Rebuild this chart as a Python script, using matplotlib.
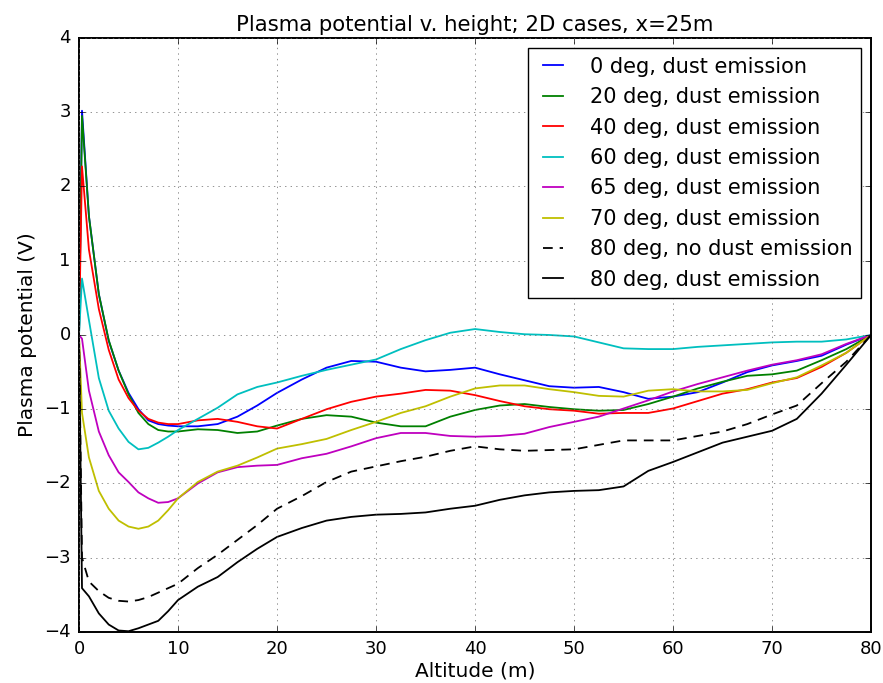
import matplotlib
matplotlib.use("Agg")
import matplotlib.pyplot as plt

plt.style.use('classic')
plt.rcParams['font.family'] = ['DejaVu Sans']

# altitude grid (m)
altitude = [0, 0.3, 1, 2, 3, 4, 5, 6, 7, 8, 9, 10, 12, 14, 16, 18, 20, 22.5, 25, 27.5,
            30, 32.5, 35, 37.5, 40, 42.5, 45, 47.5, 50, 52.5, 55, 57.5, 60, 62.5, 65,
            67.5, 70, 72.5, 75, 77.5, 80]

deg0 = [0, 3.02, 1.6, 0.55, -0.08, -0.48, -0.78, -1.0, -1.15, -1.2, -1.22, -1.23, -1.23,
        -1.2, -1.1, -0.95, -0.78, -0.6, -0.44, -0.35, -0.36, -0.44, -0.49, -0.47, -0.44,
        -0.53, -0.61, -0.69, -0.71, -0.70, -0.77, -0.86, -0.83, -0.77, -0.64, -0.50,
        -0.41, -0.35, -0.28, -0.13, 0]
deg20 = [0, 2.95, 1.6, 0.55, -0.07, -0.48, -0.8, -1.05, -1.2, -1.28, -1.3, -1.3, -1.27,
         -1.28, -1.32, -1.3, -1.22, -1.13, -1.08, -1.10, -1.18, -1.23, -1.23, -1.10,
         -1.01, -0.95, -0.93, -0.97, -1.0, -1.02, -1.01, -0.93, -0.83, -0.72, -0.63,
         -0.55, -0.53, -0.48, -0.34, -0.19, 0]
deg40 = [0, 2.27, 1.15, 0.35, -0.2, -0.6, -0.85, -1.02, -1.13, -1.18, -1.2, -1.2, -1.15,
         -1.13, -1.17, -1.23, -1.26, -1.13, -1.0, -0.90, -0.83, -0.79, -0.74, -0.75,
         -0.81, -0.89, -0.96, -1.0, -1.02, -1.06, -1.05, -1.05, -0.99, -0.89, -0.79,
         -0.73, -0.64, -0.58, -0.43, -0.24, 0]
deg60 = [0, 0.76, 0.2, -0.58, -1.02, -1.26, -1.44, -1.54, -1.52, -1.45, -1.37, -1.28,
         -1.13, -0.98, -0.8, -0.7, -0.64, -0.55, -0.47, -0.40, -0.33, -0.19, -0.07, 0.03,
         0.08, 0.04, 0.01, 0.0, -0.02, -0.1, -0.18, -0.19, -0.19, -0.16, -0.14, -0.12,
         -0.10, -0.09, -0.09, -0.06, 0]
deg65 = [0, -0.05, -0.75, -1.3, -1.62, -1.85, -1.98, -2.12, -2.2, -2.26, -2.25, -2.2,
         -2.0, -1.85, -1.78, -1.76, -1.75, -1.66, -1.6, -1.5, -1.39, -1.32, -1.32, -1.36,
         -1.37, -1.36, -1.33, -1.24, -1.17, -1.10, -0.99, -0.88, -0.76, -0.66, -0.57,
         -0.48, -0.40, -0.34, -0.26, -0.12, 0]
deg70 = [0, -1.05, -1.65, -2.1, -2.34, -2.5, -2.58, -2.61, -2.58, -2.5, -2.36, -2.2,
         -1.98, -1.84, -1.76, -1.65, -1.53, -1.47, -1.4, -1.28, -1.17, -1.05, -0.96,
         -0.83, -0.72, -0.68, -0.68, -0.73, -0.77, -0.82, -0.83, -0.75, -0.73, -0.76,
         -0.76, -0.74, -0.65, -0.57, -0.41, -0.24, 0]
deg80_nodust = [0, -3.0, -3.32, -3.45, -3.54, -3.58, -3.59, -3.57, -3.53, -3.47, -3.41,
                -3.35, -3.14, -2.96, -2.76, -2.56, -2.34, -2.17, -1.98, -1.84, -1.77,
                -1.70, -1.64, -1.56, -1.50, -1.54, -1.56, -1.55, -1.54, -1.48, -1.42,
                -1.42, -1.42, -1.36, -1.30, -1.20, -1.07, -0.95, -0.65, -0.36, 0]
deg80 = [0, -3.41, -3.52, -3.75, -3.9, -3.98, -3.99, -3.95, -3.9, -3.85, -3.72, -3.57,
         -3.39, -3.26, -3.06, -2.88, -2.72, -2.6, -2.5, -2.45, -2.42, -2.41, -2.39, -2.34,
         -2.30, -2.22, -2.16, -2.12, -2.10, -2.09, -2.04, -1.83, -1.71, -1.58, -1.45,
         -1.37, -1.29, -1.13, -0.79, -0.40, 0]

fig = plt.figure(figsize=(8.83, 6.83), dpi=100, facecolor='white')
ax = fig.add_axes([0.0895, 0.0747, 0.897, 0.8697])

lw = 1.3
ax.plot(altitude, deg0, 'b-', lw=lw, label='0 deg, dust emission')
ax.plot(altitude, deg20, 'g-', lw=lw, label='20 deg, dust emission')
ax.plot(altitude, deg40, 'r-', lw=lw, label='40 deg, dust emission')
ax.plot(altitude, deg60, 'c-', lw=lw, label='60 deg, dust emission')
ax.plot(altitude, deg65, 'm-', lw=lw, label='65 deg, dust emission')
ax.plot(altitude, deg70, 'y-', lw=lw, label='70 deg, dust emission')
ax.plot(altitude, deg80_nodust, 'k--', lw=lw, dashes=(7, 5),
        label='80 deg, no dust emission')
ax.plot(altitude, deg80, 'k-', lw=lw, label='80 deg, dust emission')

ax.set_xlim(0, 80)
ax.set_ylim(-4, 4)
ax.tick_params(labelsize=13, pad=6)
for s in ax.spines.values():
    s.set_linewidth(1.4)
ax.set_xlabel('Altitude (m)', fontsize=14.5, labelpad=2)
ax.set_ylabel('Plasma potential (V)', fontsize=14.5)
ax.set_title('Plasma potential v. height; 2D cases, x=25m', fontsize=15.3)
ax.grid(True, color='0.4')
ax.legend(loc='upper right', fontsize=15, handlelength=1.55, handletextpad=1.0)

fig.savefig('out.png', dpi=100, facecolor='white')
